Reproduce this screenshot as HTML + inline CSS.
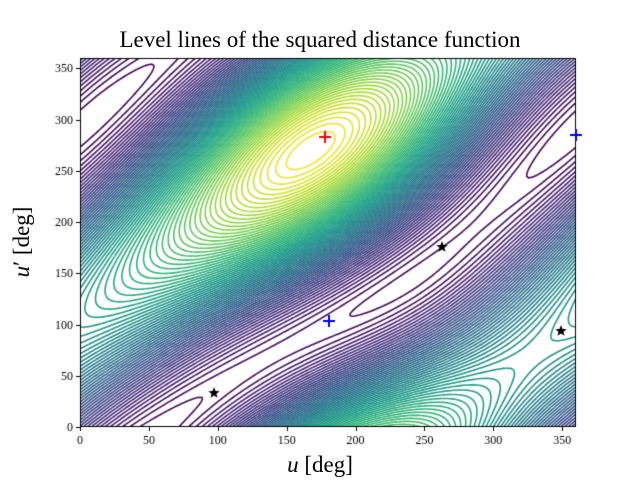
<!DOCTYPE html>
<html><head><meta charset="utf-8"><style>
html,body{margin:0;padding:0;background:#fff;}
#w{position:relative;width:640px;height:480px;overflow:hidden;font-family:"Liberation Serif","DejaVu Serif",serif;}
canvas{position:absolute;left:0;top:0;}
.t{position:absolute;white-space:nowrap;color:#000;}
</style></head><body><div id="w">
<canvas id="c" width="640" height="480"></canvas>
<div class="t" style="left:0;width:640px;text-align:center;top:27px;font-size:23px;">Level lines of the squared distance function</div>
<div class="t" style="left:0;width:640px;text-align:center;top:452px;font-size:23px;"><i>u</i> [deg]</div>
<div class="t" style="left:22px;top:242px;font-size:23px;transform:translate(-50%,-50%) rotate(-90deg);"><i>u</i>′ [deg]</div>
</div>
<script>
var c=document.getElementById('c'),g=c.getContext('2d');
var X0=80,X1=576,Y0=427,Y1=58;
function px(u){return X0+(X1-X0)*u/360;}
function py(v){return Y0+(Y1-Y0)*v/360;}
var D=Math.PI/180;
var a1=1.25,e1=0.3,a2=1.1,e2=0.12,om=77*D,inc=22*D;
function f(u,v){
 var x1=a1*(Math.cos(u)-e1),y1=a1*Math.sqrt(1-e1*e1)*Math.sin(u),z1=0;
 var xp=a2*(Math.cos(v)-e2),yp=a2*Math.sqrt(1-e2*e2)*Math.sin(v);
 var xr=xp*Math.cos(om)-yp*Math.sin(om),yr=xp*Math.sin(om)+yp*Math.cos(om);
 var x2=xr,y2=yr*Math.cos(inc),z2=yr*Math.sin(inc);
 return (x1-x2)*(x1-x2)+(y1-y2)*(y1-y2)+(z1-z2)*(z1-z2);
}
var N=240,Z=[],mn=1e9,mx=-1e9;
for(var j=0;j<=N;j++){Z[j]=[];for(var i=0;i<=N;i++){var z=f(i/N*360*D,j/N*360*D);Z[j][i]=z;if(z<mn)mn=z;if(z>mx)mx=z;}}
function vir(t){var s=[[68,1,84],[72,40,120],[62,74,137],[49,104,142],[38,130,142],[31,158,137],[53,183,121],[109,205,89],[180,222,44],[253,231,37]];
 t=Math.max(0,Math.min(1,t))*9;var k=Math.min(8,Math.floor(t)),r=t-k;
 return 'rgb('+s[k].map(function(a,q){return Math.round(a+(s[k+1][q]-a)*r);}).join(',')+')';}
g.save();g.beginPath();g.rect(X0,Y1,X1-X0,Y0-Y1);g.clip();
g.lineWidth=1.6;g.lineCap='round';
var L=72;
for(var l=1;l<L;l++){
 var lv=mn+(mx-mn)*l/L;g.strokeStyle=vir(l/L);g.beginPath();
 for(var j=0;j<N;j++)for(var i=0;i<N;i++){
  var a=Z[j][i],b=Z[j][i+1],cc=Z[j+1][i+1],d=Z[j+1][i];
  var pts=[];
  function e(p,q,x0,y0,x1,y1){if((p<lv)!=(q<lv)){var t=(lv-p)/(q-p);pts.push([x0+(x1-x0)*t,y0+(y1-y0)*t]);}}
  e(a,b,i,j,i+1,j);e(b,cc,i+1,j,i+1,j+1);e(cc,d,i+1,j+1,i,j+1);e(d,a,i,j+1,i,j);
  for(var k=0;k+1<pts.length;k+=2){g.moveTo(px(pts[k][0]/N*360),py(pts[k][1]/N*360));g.lineTo(px(pts[k+1][0]/N*360),py(pts[k+1][1]/N*360));}
 }
 g.stroke();
}
g.restore();
g.strokeStyle='#000';g.lineWidth=1;g.strokeRect(X0+0.5,Y1+0.5,X1-X0-1,Y0-Y1-1);
g.fillStyle='#000';g.font='12px "Liberation Serif",serif';
for(var t=0;t<=350;t+=50){var x=px(t);g.fillRect(Math.round(x),Y0,1,4);g.textAlign='center';g.fillText(t,x,Y0+17);
 var y=py(t);g.fillRect(X0-4,Math.round(y),4,1);g.textAlign='right';g.fillText(t,X0-7,y+4);}
function plus(x,y,col){g.strokeStyle=col;g.lineWidth=2;g.beginPath();g.moveTo(x-6,y);g.lineTo(x+6,y);g.moveTo(x,y-6);g.lineTo(x,y+6);g.stroke();}
plus(325,137,'#f00');plus(329,321,'#00f');plus(576,135,'#00f');
function star(x,y){g.fillStyle='#000';g.beginPath();for(var k=0;k<10;k++){var r=k%2?2.6:6,a=-Math.PI/2+k*Math.PI/5;g.lineTo(x+r*Math.cos(a),y+r*Math.sin(a));}g.closePath();g.fill();}
star(214,393);star(442,247);star(561,331);
</script></body></html>
